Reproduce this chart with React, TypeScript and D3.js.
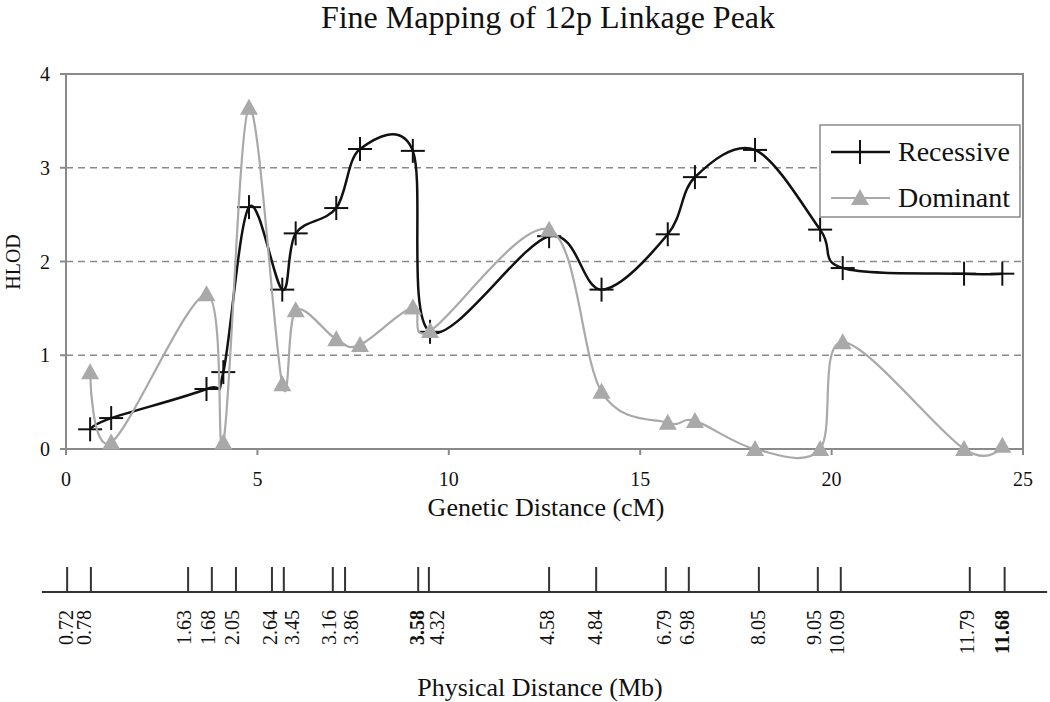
import React from "react";
import * as d3 from "d3";

// ---- data ----
const markerCM = [0.63, 1.18, 3.67, 4.11, 4.78, 5.65, 6.0, 7.06, 7.68, 9.06, 9.51, 12.62, 13.99, 15.72, 16.43, 18.0, 19.7, 20.29, 23.46, 24.46];
const recessive = [0.21, 0.33, 0.64, 0.82, 2.58, 1.7, 2.3, 2.57, 3.2, 3.18, 1.25, 2.27, 1.7, 2.29, 2.9, 3.19, 2.34, 1.93, 1.87, 1.87];
const dominant = [0.82, 0.07, 1.65, 0.07, 3.64, 0.69, 1.48, 1.17, 1.11, 1.51, 1.26, 2.34, 0.61, 0.28, 0.3, 0.0, 0.0, 1.14, 0.0, 0.035];

const xTicks = [0, 5, 10, 15, 20, 25];
const yTicks = [0, 1, 2, 3, 4];

// physical map: tick positions and label positions (in cM along the same axis) and Mb labels
const physTickCM = [0.03, 0.65, 3.19, 3.81, 4.44, 5.38, 5.69, 6.97, 7.29, 9.2, 9.48, 12.62, 13.85, 15.67, 16.27, 18.1, 19.64, 20.24, 23.61, 24.52];
const physLabelCM = [0.0, 0.47, 3.08, 3.71, 4.34, 5.33, 5.9, 6.87, 7.45, 9.17, 9.69, 12.57, 13.82, 15.62, 16.22, 18.08, 19.54, 20.14, 23.54, 24.45];
const physLabels = ["0.72", "0.78", "1.63", "1.68", "2.05", "2.64", "3.45", "3.16", "3.86", "3.58", "4.32", "4.58", "4.84", "6.79", "6.98", "8.05", "9.05", "10.09", "11.79", "11.68"];
const physBold = ["3.58", "11.68"];

const title = "Fine Mapping of 12p Linkage Peak";
const seriesNames = ["Recessive", "Dominant"];

const FONT = "'Liberation Serif', 'Times New Roman', Times, serif";

export default function App() {
  const W = 1050, H = 702;
  const x = d3.scaleLinear().domain([0, 25]).range([66, 1023]);
  const y = d3.scaleLinear().domain([0, 4]).range([449, 74]);

  const line = d3
    .line<[number, number]>()
    .x((d) => x(d[0]))
    .y((d) => y(d[1]))
    .curve(d3.curveCardinal.tension(0));

  const recPts: [number, number][] = markerCM.map((c, i) => [c, recessive[i]]);
  const domPts: [number, number][] = markerCM.map((c, i) => [c, dominant[i]]);

  const black = "#111";
  const gray = "#a9a9a9";
  const frame = "#8a8a8a";

  const plus = (cx: number, cy: number, key: any) => (
    <g key={key} stroke={black} strokeWidth={2}>
      <line x1={cx - 12} x2={cx + 12} y1={cy} y2={cy} />
      <line x1={cx} x2={cx} y1={cy - 12} y2={cy + 12} />
    </g>
  );
  const tri = (cx: number, cy: number, key: any) => (
    <path key={key} d={`M${cx},${cy - 9}L${cx + 9},${cy + 7}L${cx - 9},${cy + 7}Z`} fill={gray} />
  );

  const physY = 592;

  return (
    <svg width={W} height={H} style={{ position: "absolute", left: 0, top: 0, background: "#fff" }} fontFamily={FONT}>
      <rect width={W} height={H} fill="#fff" />
      <text x={548} y={28} fontSize={32} textAnchor="middle" fill="#111">{title}</text>

      {/* gridlines */}
      {yTicks.filter((t) => t > 0 && t < 4).map((t) => (
        <line key={t} x1={x(0)} x2={x(25)} y1={y(t)} y2={y(t)} stroke={frame} strokeWidth={1.3} strokeDasharray="7,5" />
      ))}

      {/* frame */}
      <rect x={x(0)} y={y(4)} width={x(25) - x(0)} height={y(0) - y(4)} fill="none" stroke={frame} strokeWidth={2} />

      {/* y ticks */}
      {yTicks.map((t) => (
        <g key={t}>
          <line x1={x(0) - 6} x2={x(0)} y1={y(t)} y2={y(t)} stroke={frame} strokeWidth={2} />
          <text x={50} y={y(t) + 7} fontSize={20} textAnchor="end" fill="#111">{t}</text>
        </g>
      ))}
      {/* x ticks */}
      {xTicks.map((t) => (
        <g key={t}>
          <line x1={x(t)} x2={x(t)} y1={y(0)} y2={y(0) + 6} stroke={frame} strokeWidth={2} />
          <text x={x(t)} y={486} fontSize={20} textAnchor="middle" fill="#111">{t}</text>
        </g>
      ))}

      <text transform={`translate(20,262) rotate(-90)`} fontSize={20} textAnchor="middle" fill="#111">HLOD</text>
      <text x={546} y={516} fontSize={26} textAnchor="middle" fill="#111">Genetic Distance (cM)</text>

      {/* series */}
      <path d={line(recPts) || ""} fill="none" stroke={black} strokeWidth={2.5} />
      {recPts.map((p, i) => plus(x(p[0]), y(p[1]), "r" + i))}
      <path d={line(domPts) || ""} fill="none" stroke={gray} strokeWidth={2.2} />
      {domPts.map((p, i) => tri(x(p[0]), y(p[1]), "d" + i))}

      {/* legend */}
      <rect x={820} y={125} width={200} height={92} fill="#fff" stroke={frame} strokeWidth={1.5} />
      <line x1={831} x2={890} y1={152} y2={152} stroke={black} strokeWidth={2.5} />
      {plus(860, 152, "lp")}
      <text x={898} y={161} fontSize={28} fill="#111">{seriesNames[0]}</text>
      <line x1={831} x2={890} y1={198} y2={198} stroke={gray} strokeWidth={2.2} />
      {tri(860, 198, "lt")}
      <text x={898} y={207} fontSize={28} fill="#111">{seriesNames[1]}</text>

      {/* physical distance axis */}
      <line x1={x(-0.63)} x2={x(25.63)} y1={physY} y2={physY} stroke="#333" strokeWidth={2} />
      {physTickCM.map((c, i) => (
        <line key={"t" + i} x1={x(c)} x2={x(c)} y1={physY - 25} y2={physY} stroke="#333" strokeWidth={2} />
      ))}
      {physLabelCM.map((c, i) => (
        <text
          key={"l" + i}
          transform={`translate(${x(c) + 7},610) rotate(-90)`}
          fontSize={20}
          textAnchor="end"
          fontWeight={physBold.includes(physLabels[i]) ? "bold" : "normal"}
          fill="#111"
        >
          {physLabels[i]}
        </text>
      ))}
      <text x={540} y={696} fontSize={26} textAnchor="middle" fill="#111">Physical Distance (Mb)</text>
    </svg>
  );
}
